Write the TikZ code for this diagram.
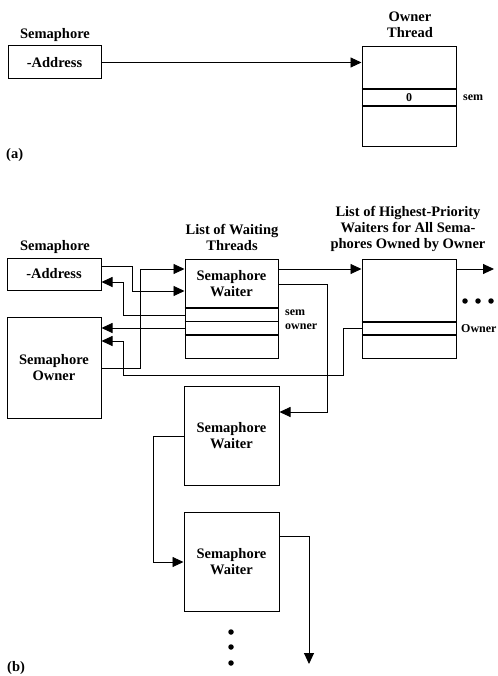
\documentclass[tikz,border=0pt]{standalone}
\usepackage{fontspec}
\setmainfont{Liberation Serif}
\usetikzlibrary{arrows.meta}
\begin{document}
\begin{tikzpicture}[x=1pt,y=-1pt,
  lbl/.style={font=\bfseries\fontsize{14.5}{16}\selectfont, align=center, inner sep=0pt},
  small/.style={font=\bfseries\fontsize{12}{13}\selectfont, inner sep=0pt},
  box/.style={draw, line width=1pt, rectangle, inner sep=0pt, align=center,
    font=\bfseries\fontsize{14.5}{16}\selectfont},
  sep/.style={line width=1.7pt},
  arr/.style={line width=0.9pt, -{Triangle[length=11pt,width=10pt]}},
  dotc/.style={fill=black, circle, inner sep=0pt, minimum size=5.5pt}]
\useasboundingbox (0,0) rectangle (497,676);

% ---------- (a) ----------
\node[lbl] (semA) at (55,35) {Semaphore};
\node[box, minimum width=93pt, minimum height=33pt] (addrA) at (54.5,62.5) {-Address};
\node[lbl] (ownthr) at (410,25) {Owner\\Thread};
\node[box, minimum width=94pt, minimum height=100pt] (ownA) at (409,97) {};
\draw[sep] (ownA.west |- 0,89) -- (ownA.east |- 0,89);
\draw[sep] (ownA.west |- 0,106) -- (ownA.east |- 0,106);
\node[small] (zero) at (409,97.5) {0};
\node[small, anchor=west] (semlblA) at (463,98) {sem};
\draw[arr] (addrA.east) -- (addrA.east -| ownA.west);
\node[lbl, anchor=west] (labA) at (6,155) {(a)};

% ---------- (b) ----------
\node[lbl] (semB) at (55,247) {Semaphore};
\node[box, minimum width=94pt, minimum height=32pt] (addrB) at (54,274) {-Address};
\node[box, minimum width=94pt, minimum height=101pt] (ownerB) at (54,367.5) {Semaphore\\Owner};

\node[lbl] (lwt) at (232,237) {List of Waiting\\Threads};
\node[box, minimum width=93pt, minimum height=99pt] (sw1) at (231.5,308.5) {};
\node[lbl] (sw1t) at (231.5,283.5) {Semaphore\\Waiter};
\draw[sep] (sw1.west |- 0,308) -- (sw1.east |- 0,308);
\draw[line width=1.3pt] (sw1.west |- 0,321.5) -- (sw1.east |- 0,321.5);
\draw[sep] (sw1.west |- 0,335) -- (sw1.east |- 0,335);
\node[small, anchor=west] (semlblB) at (285,313) {sem};
\node[small, anchor=west] (ownlblB) at (285,327) {owner};

\node[lbl] (hpl) at (408,229) {List of Highest-Priority\\Waiters for All Sema-\\phores Owned by Owner};
\node[box, minimum width=94pt, minimum height=99pt] (hp) at (409,308.5) {};
\draw[sep] (hp.west |- 0,322) -- (hp.east |- 0,322);
\draw[sep] (hp.west |- 0,335) -- (hp.east |- 0,335);
\node[small, anchor=west] (ownlblHP) at (461,329) {Owner};
\node[dotc] (hd1) at (465,301) {};
\node[dotc] (hd2) at (478,301) {};
\node[dotc] (hd3) at (491,301) {};

\node[box, minimum width=95pt, minimum height=99pt] (sw2) at (231.5,435.5) {Semaphore\\Waiter};
\node[box, minimum width=95pt, minimum height=99pt] (sw3) at (231.5,561.5) {Semaphore\\Waiter};
\node[dotc] (vd1) at (231,632) {};
\node[dotc] (vd2) at (231,647) {};
\node[dotc] (vd3) at (231,663) {};
\node[lbl, anchor=west] (labB) at (7,668) {(b)};

\coordinate (hpout) at (494,269);
\coordinate (swend) at (309,664);

% connectors
\draw[arr] (addrB.east |- 0,266) -- (132,266) -- (132,291) -- (sw1.west |- 0,291);
\draw[arr] (sw1.west |- 0,315) -- (123,315) -- (123,282) -- (addrB.east |- 0,282);
\draw[arr] (sw1.west |- 0,328) -- (ownerB.east |- 0,328);
\draw[arr] (hp.west |- 0,328.5) -- (343,328.5) -- (343,375) -- (123,375) -- (123,341) -- (ownerB.east |- 0,341);
\draw[arr] (ownerB.east |- 0,368) -- (140,368) -- (140,269) -- (sw1.west |- 0,269);
\draw[arr] (sw1.east |- 0,269) -- (hp.west |- 0,269);
\draw[arr] (sw1.east |- 0,284) -- (327,284) -- (327,412) -- (sw2.east |- 0,412);
\draw[arr] (sw2.west |- 0,436) -- (153,436) -- (153,562) -- (sw3.west |- 0,562);
\draw[arr] (sw3.east |- 0,536) -- (309,536) -- (swend);
\draw[arr] (hp.east |- 0,269) -- (hpout);
\end{tikzpicture}
\end{document}
